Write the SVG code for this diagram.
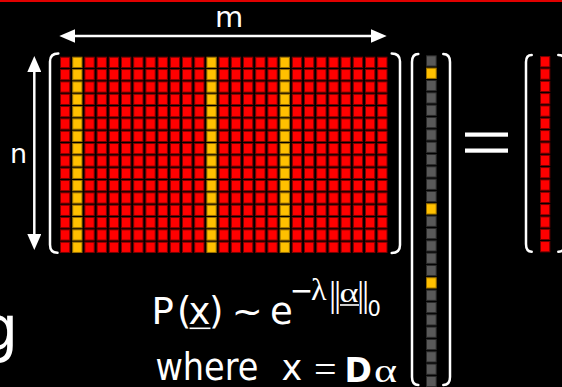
<svg xmlns="http://www.w3.org/2000/svg" width="562" height="387" viewBox="0 0 562 387">
<style>
.r{fill:#ff0000;stroke:#7a0000;stroke-width:1}
.y{fill:#ffc000;stroke:#9a7000;stroke-width:1}
.g{fill:#595959;stroke:#2a2a2a;stroke-width:1}
.br{fill:none;stroke:#fff;stroke-width:2.5;stroke-linecap:round}
.ar{fill:none;stroke:#fff;stroke-width:2.5}
.t{fill:#fff;font-family:"DejaVu Sans",Verdana,sans-serif}
.s{fill:#fff;font-family:"Liberation Serif","Times New Roman",serif}
.ul{stroke:#fff;stroke-width:1.6}
</style>
<defs>
<marker id="ah" markerUnits="userSpaceOnUse" markerWidth="16" markerHeight="14" refX="8" refY="7" orient="auto-start-reverse" viewBox="0 0 16 14"><path d="M0,0L16,7L0,14z" fill="#fff"/></marker>
<g id="col">
<rect x="0.5" y="57.2" width="9.3" height="10.3"/>
<rect x="0.5" y="69.53" width="9.3" height="10.3"/>
<rect x="0.5" y="81.86" width="9.3" height="10.3"/>
<rect x="0.5" y="94.19" width="9.3" height="10.3"/>
<rect x="0.5" y="106.52" width="9.3" height="10.3"/>
<rect x="0.5" y="118.85" width="9.3" height="10.3"/>
<rect x="0.5" y="131.18" width="9.3" height="10.3"/>
<rect x="0.5" y="143.51" width="9.3" height="10.3"/>
<rect x="0.5" y="155.84" width="9.3" height="10.3"/>
<rect x="0.5" y="168.17" width="9.3" height="10.3"/>
<rect x="0.5" y="180.5" width="9.3" height="10.3"/>
<rect x="0.5" y="192.83" width="9.3" height="10.3"/>
<rect x="0.5" y="205.16" width="9.3" height="10.3"/>
<rect x="0.5" y="217.49" width="9.3" height="10.3"/>
<rect x="0.5" y="229.82" width="9.3" height="10.3"/>
<rect x="0.5" y="242.15" width="9.3" height="10.3"/>
</g>
</defs>
<rect width="562" height="387" fill="#000"/>
<rect x="0" y="0" width="562" height="2" fill="#e00000"/>

<g id="matrix-D">
<use href="#col" x="60" class="r"/>
<use href="#col" x="72.2" class="y"/>
<use href="#col" x="84.4" class="r"/>
<use href="#col" x="96.6" class="r"/>
<use href="#col" x="108.8" class="r"/>
<use href="#col" x="121" class="r"/>
<use href="#col" x="133.2" class="r"/>
<use href="#col" x="145.4" class="r"/>
<use href="#col" x="157.6" class="r"/>
<use href="#col" x="169.8" class="r"/>
<use href="#col" x="182" class="r"/>
<use href="#col" x="194.2" class="r"/>
<use href="#col" x="206.4" class="y"/>
<use href="#col" x="218.6" class="r"/>
<use href="#col" x="230.8" class="r"/>
<use href="#col" x="243" class="r"/>
<use href="#col" x="255.2" class="r"/>
<use href="#col" x="267.4" class="r"/>
<use href="#col" x="279.6" class="y"/>
<use href="#col" x="291.8" class="r"/>
<use href="#col" x="304" class="r"/>
<use href="#col" x="316.2" class="r"/>
<use href="#col" x="328.4" class="r"/>
<use href="#col" x="340.6" class="r"/>
<use href="#col" x="352.8" class="r"/>
<use href="#col" x="365" class="r"/>
<use href="#col" x="377.2" class="r"/>
<path class="br" d="M58.3,53.5 Q50,53.5 50,61.5 L50,244.7 Q50,252.7 57.5,252.7"/>
<path class="br" d="M391.7,53.5 Q400,53.5 400,61.5 L400,245 Q400,253 391.7,253"/>
</g>

<g id="vector-alpha">
<rect class="g" x="426.5" y="55.8" width="9.7" height="10.3"/>
<rect class="y" x="426.5" y="68.13" width="9.7" height="10.3"/>
<rect class="g" x="426.5" y="80.46" width="9.7" height="10.3"/>
<rect class="g" x="426.5" y="92.79" width="9.7" height="10.3"/>
<rect class="g" x="426.5" y="105.12" width="9.7" height="10.3"/>
<rect class="g" x="426.5" y="117.45" width="9.7" height="10.3"/>
<rect class="g" x="426.5" y="129.78" width="9.7" height="10.3"/>
<rect class="g" x="426.5" y="142.11" width="9.7" height="10.3"/>
<rect class="g" x="426.5" y="154.44" width="9.7" height="10.3"/>
<rect class="g" x="426.5" y="166.77" width="9.7" height="10.3"/>
<rect class="g" x="426.5" y="179.1" width="9.7" height="10.3"/>
<rect class="g" x="426.5" y="191.43" width="9.7" height="10.3"/>
<rect class="y" x="426.5" y="203.76" width="9.7" height="10.3"/>
<rect class="g" x="426.5" y="216.09" width="9.7" height="10.3"/>
<rect class="g" x="426.5" y="228.42" width="9.7" height="10.3"/>
<rect class="g" x="426.5" y="240.75" width="9.7" height="10.3"/>
<rect class="g" x="426.5" y="253.08" width="9.7" height="10.3"/>
<rect class="g" x="426.5" y="265.41" width="9.7" height="10.3"/>
<rect class="y" x="426.5" y="277.74" width="9.7" height="10.3"/>
<rect class="g" x="426.5" y="290.07" width="9.7" height="10.3"/>
<rect class="g" x="426.5" y="302.4" width="9.7" height="10.3"/>
<rect class="g" x="426.5" y="314.73" width="9.7" height="10.3"/>
<rect class="g" x="426.5" y="327.06" width="9.7" height="10.3"/>
<rect class="g" x="426.5" y="339.39" width="9.7" height="10.3"/>
<rect class="g" x="426.5" y="351.72" width="9.7" height="10.3"/>
<rect class="g" x="426.5" y="364.05" width="9.7" height="10.3"/>
<rect class="g" x="426.5" y="376.38" width="9.7" height="10.3"/>
<path class="br" d="M418.3,54 Q412,54 412,62 L412,377 Q412,385 418.3,385"/>
<path class="br" d="M443.3,54 Q450,54 450,62 L450,377 Q450,385 443.3,385"/>
</g>

<g id="equals">
<rect x="465" y="132.5" width="43" height="4.2" fill="#fff"/>
<rect x="465" y="148.5" width="43" height="4.2" fill="#fff"/>
</g>

<g id="vector-x">
<use href="#col" x="540" y="-0.6" class="r"/>
<path class="br" d="M531.7,55 Q526,55 526,62 L526,244 Q526,251.7 531.7,251.7"/>
<path class="br" d="M558.3,55 Q565,55 565,62 L565,244 Q565,251.7 558.3,251.7"/>
</g>

<g id="connectors">
<line class="ar" x1="67.3" y1="36" x2="378.7" y2="36" marker-start="url(#ah)" marker-end="url(#ah)"/>
<line class="ar" x1="34.3" y1="64" x2="34.3" y2="242" marker-start="url(#ah)" marker-end="url(#ah)"/>
</g>

<g id="labels">
<text class="t" x="229" y="27" font-size="29" text-anchor="middle">m</text>
<text class="t" x="10" y="163.3" font-size="27">n</text>
<text class="t" x="-21" y="350" font-size="62">g</text>
</g>

<g id="formula">
<text class="t" font-size="37" y="323.5"><tspan x="151.4">P</tspan><tspan x="177">(</tspan><tspan x="188.5">x</tspan><tspan x="209">)</tspan><tspan x="231.7">~</tspan><tspan x="270">e</tspan></text>
<line class="ul" x1="189.5" y1="328.3" x2="210.5" y2="328.3" stroke-width="2"/>
<text class="t" font-size="28" x="289.7" y="300">−</text>
<text class="s" font-size="32" x="311" y="299.5">λ</text>
<text class="s" font-size="36" x="328.9" y="305.5" letter-spacing="-2.2">||</text>
<text class="s" font-size="27" x="339.5" y="301.7" textLength="19" lengthAdjust="spacingAndGlyphs">α</text>
<line class="ul" x1="340" y1="305" x2="359" y2="305"/>
<text class="s" font-size="36" x="357" y="305.5" letter-spacing="-2.2">||</text>
<text class="t" font-size="21" x="367.5" y="315.5">0</text>
<text class="t" font-size="37" x="155.4" y="380" textLength="103" lengthAdjust="spacingAndGlyphs">where</text>
<text class="t" font-size="35" x="281.5" y="380">x</text>
<text class="s" font-size="40" x="314" y="382.5">=</text>
<text class="t" font-size="33" font-weight="bold" x="344.5" y="381.5">D</text>
<text class="s" font-size="34" x="374" y="381.5" textLength="23" lengthAdjust="spacingAndGlyphs">α</text>
</g>
</svg>
